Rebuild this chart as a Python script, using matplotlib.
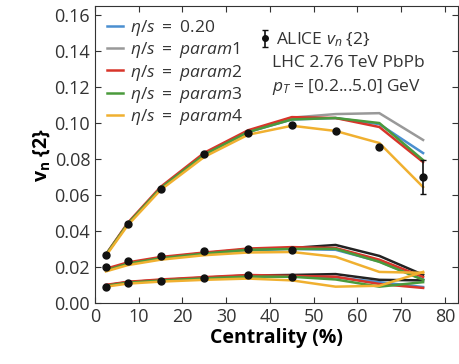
import numpy as np
import matplotlib.pyplot as plt
from matplotlib.lines import Line2D

plt.rcParams['font.family'] = ['Open Sans', 'DejaVu Sans']
plt.rcParams['mathtext.fontset'] = 'custom'
plt.rcParams['mathtext.rm'] = 'Open Sans'
plt.rcParams['mathtext.it'] = 'Open Sans:italic'
plt.rcParams['mathtext.bf'] = 'Open Sans:bold'

# centrality bins (%)
cent = [2.5, 7.5, 15, 25, 35, 45, 55, 65, 75]

# ALICE data
alice_v2 = [0.0267, 0.0439, 0.0635, 0.0828, 0.0944, 0.0989, 0.0956, 0.0867, 0.0700]
alice_v2_err = [0, 0, 0, 0, 0, 0, 0, 0, 0.0092]
cent_low = [2.5, 7.5, 15, 25, 35, 45]
alice_v3 = [0.0200, 0.0233, 0.0261, 0.0289, 0.0300, 0.0294]
alice_v4 = [0.0089, 0.0111, 0.0122, 0.0139, 0.0156, 0.0144]

labels = ["0.20", "param1", "param2", "param3", "param4"]
colors = ["#4a8fd0", "#999999", "#d8352a", "#4a9a3c", "#f0b030"]

# model v2 per eta/s setting
v2 = {
    "0.20":   [0.0268, 0.0440, 0.0638, 0.0825, 0.0950, 0.1020, 0.1028, 0.0994, 0.0833],
    "param1": [0.0268, 0.0440, 0.0638, 0.0825, 0.0950, 0.1030, 0.1050, 0.1055, 0.0906],
    "param2": [0.0270, 0.0445, 0.0645, 0.0835, 0.0960, 0.1033, 0.1028, 0.0978, 0.0783],
    "param3": [0.0268, 0.0440, 0.0638, 0.0825, 0.0950, 0.1020, 0.1028, 0.1000, 0.0794],
    "param4": [0.0262, 0.0432, 0.0628, 0.0812, 0.0935, 0.0985, 0.0956, 0.0889, 0.0644],
}
v3 = {
    "0.20":   [0.0180, 0.0215, 0.0245, 0.0272, 0.0292, 0.0300, 0.0295, 0.0230, 0.0130],
    "param1": [0.0183, 0.0220, 0.0250, 0.0277, 0.0298, 0.0305, 0.0322, 0.0261, 0.0156],
    "param2": [0.0190, 0.0225, 0.0255, 0.0280, 0.0302, 0.0310, 0.0305, 0.0240, 0.0144],
    "param3": [0.0180, 0.0218, 0.0248, 0.0274, 0.0295, 0.0300, 0.0300, 0.0228, 0.0128],
    "param4": [0.0175, 0.0210, 0.0240, 0.0265, 0.0280, 0.0283, 0.0256, 0.0172, 0.0167],
}
v4 = {
    "0.20":   [0.0095, 0.0113, 0.0125, 0.0138, 0.0148, 0.0148, 0.0142, 0.0115, 0.0088],
    "param1": [0.0097, 0.0115, 0.0127, 0.0140, 0.0152, 0.0155, 0.0160, 0.0128, 0.0125],
    "param2": [0.0100, 0.0117, 0.0130, 0.0143, 0.0155, 0.0150, 0.0145, 0.0105, 0.0083],
    "param3": [0.0095, 0.0112, 0.0124, 0.0136, 0.0146, 0.0145, 0.0130, 0.0090, 0.0115],
    "param4": [0.0090, 0.0107, 0.0118, 0.0128, 0.0135, 0.0125, 0.0090, 0.0095, 0.0172],
}

fig = plt.figure(figsize=(4.59, 3.64), dpi=100)
ax = fig.add_axes([0.207, 0.168, 0.791, 0.815])

handles = []
for lab, c in zip(labels, colors):
    # the higher harmonics of param1 are drawn dark
    lc = "#222222" if lab == "param1" else c
    ax.plot(cent, v4[lab], color=lc, lw=1.8)
    ax.plot(cent, v3[lab], color=lc, lw=1.8)
    ax.plot(cent, v2[lab], color=c, lw=1.8)
    if lab == "0.20":
        txt = r"$\eta/s\ =\ 0.20$"
    else:
        txt = r"$\eta/s\ =\ \mathit{%s}$" % lab
    handles.append(Line2D([], [], color=c, lw=1.8, label=txt))

eb = ax.errorbar(cent, alice_v2, yerr=alice_v2_err, fmt='o', color='#111111',
                 ms=5, capsize=2, elinewidth=1.2, zorder=5)
ax.plot(cent_low, alice_v3, 'o', color='#111111', ms=5, zorder=5)
ax.plot(cent_low, alice_v4, 'o', color='#111111', ms=5, zorder=5)

leg1 = ax.legend(handles=handles, loc='upper left', bbox_to_anchor=(0.0, 1.0),
                 frameon=False, fontsize=12.5, handlelength=0.9, handletextpad=0.4,
                 labelspacing=0.12, borderaxespad=0.3, labelcolor='#333333')
ax.add_artist(leg1)
ax.legend([eb], [r"ALICE $v_n$ {2}"], loc='center left', bbox_to_anchor=(0.44, 0.886),
          frameon=False, fontsize=12.5, handlelength=0.4, handletextpad=0.4,
          borderaxespad=0.0, markerscale=0.8, labelcolor='#333333')
ax.text(0.487, 0.808, "LHC 2.76 TeV PbPb", transform=ax.transAxes, fontsize=12.5,
        va='center', ha='left', color='#333333')
ax.text(0.487, 0.727, r"$p_T$ = [0.2...5.0] GeV", transform=ax.transAxes, fontsize=12.5,
        va='center', ha='left', color='#333333')

ax.set_xlim(0, 83)
ax.set_ylim(0, 0.165)
ax.set_xticks(np.arange(0, 81, 10))
ax.set_yticks(np.arange(0, 0.161, 0.02))
ax.set_yticklabels(["%.2f" % t for t in np.arange(0, 0.161, 0.02)])
ax.tick_params(direction='in', top=True, right=True, length=4, labelsize=13,
               colors='#333333', labelcolor='#333333')
for s in ax.spines.values():
    s.set_color('#333333')
ax.set_xlabel("Centrality (%)", fontsize=14, fontweight='bold', labelpad=2)
ax.set_ylabel(r"$\mathbf{v_n}$ {2}", fontsize=14, fontweight='bold', labelpad=2)

fig.savefig("out.png", dpi=100)
